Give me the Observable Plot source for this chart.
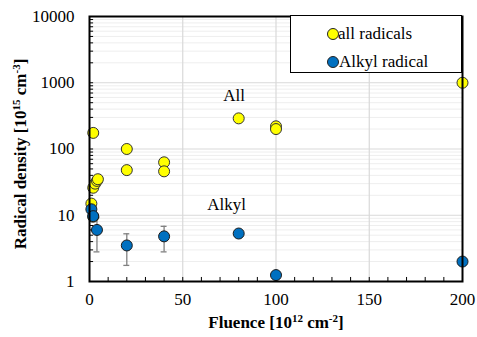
<!DOCTYPE html>
<html><head><meta charset="utf-8">
<script src="https://cdn.jsdelivr.net/npm/d3@7"></script>
<script src="https://cdn.jsdelivr.net/npm/@observablehq/plot@0.6"></script>
<style>
body{margin:0;background:#fff;}
#wrap{position:relative;width:477px;height:337px;}
.legend{position:absolute;left:290px;top:15px;width:172px;height:58px;border:1px solid #000;background:#fff;box-sizing:border-box;font-family:"Liberation Serif",serif;font-size:17px;color:#000;}
.legend .dot{position:absolute;width:10px;height:10px;border-radius:50%;border:1px solid #222;}
.legend .lab{position:absolute;white-space:nowrap;line-height:1;}
svg text{font-family:"Liberation Serif",serif;}
</style>
</head><body>
<div id="wrap"></div>
<script>
// All radicals
const allX = [2, 1, 2, 2, 3, 4, 4.5, 20, 20, 40, 40, 80, 100, 100, 200];
const allY = [175, 15, 9.5, 26, 30, 33, 35, 48, 100, 63, 46, 290, 220, 200, 1000];
// Alkyl radical
const alkylX = [1, 2, 4, 20, 40, 80, 100, 200];
const alkylY = [12.3, 9.7, 6.0, 3.5, 4.8, 5.3, 1.25, 2.0];
const alkylErr = [0, 0, 3.2, 1.75, 2.0, 0.5, 0, 0];
// ticks
const yTicks = [1, 10, 100, 1000, 10000];
const xTicks = [0, 50, 100, 150, 200];
const xMinor = [10,20,30,40,60,70,80,90,110,120,130,140,160,170,180,190];
const seriesNames = ["all radicals", "Alkyl radical"];
const colors = ["#FFFF00", "#0070C0"];
const annotations = [{x: 77.5, y: 640, t: "All"}, {x: 73.5, y: 14.4, t: "Alkyl"}];
// axis titles: [text, isSuperscript]
const yTitle = [["Radical density [10", 0], ["15", 1], [" cm", 0], ["-3", 1], ["]", 0]];
const xTitle = [["Fluence [10", 0], ["12", 1], [" cm", 0], ["-2", 1], ["]", 0]];

const allData = allX.map((x, i) => ({x, y: allY[i]}));
const alkData = alkylX.map((x, i) => ({x, y: alkylY[i], e: alkylErr[i]}));
const errData = alkData.filter(d => d.e > 0);
const minorY = [];
for (const dec of [1, 10, 100, 1000]) for (let k = 2; k <= 9; k++) minorY.push(dec * k);

const serif = "Liberation Serif";
const flat = parts => parts.map(p => p[0]).join("");
const chart = Plot.plot({
  width: 477, height: 337,
  marginLeft: 89, marginRight: 15, marginTop: 16, marginBottom: 56,
  style: {fontFamily: serif, fontSize: "17px", color: "#000", background: "#fff"},
  x: {domain: [0, 200]},
  y: {type: "log", domain: [1, 10000]},
  marks: [
    Plot.ruleY(minorY, {y: d => d, stroke: "#eeeeee", strokeWidth: 1}),
    Plot.ruleY(yTicks, {y: d => d, stroke: "#d9d9d9", strokeWidth: 1.2}),
    Plot.ruleX([50, 100, 150], {x: d => d, stroke: "#d9d9d9", strokeWidth: 1.2}),
    // inward ticks
    Plot.ruleY(minorY.concat(yTicks), {y: d => d, x1: 0, x2: 2.2, stroke: "#000", strokeWidth: 1}),
    Plot.ruleX(xMinor.concat(xTicks), {x: d => d, y1: 1, y2: 1.15, stroke: "#000", strokeWidth: 1}),
    Plot.axisY(yTicks, {tickSize: 0, tickPadding: 15, tickFormat: d => String(d), label: null, fontSize: 17, fontFamily: serif}),
    Plot.axisX(xTicks, {tickSize: 0, tickPadding: 11, tickFormat: d => String(d), label: null, fontSize: 17, fontFamily: serif}),
    // error bars
    Plot.ruleX(errData, {x: "x", y1: d => d.y - d.e, y2: d => d.y + d.e, stroke: "#808080", strokeWidth: 1.3}),
    Plot.ruleY(errData, {y: d => d.y - d.e, x1: d => d.x - 1.6, x2: d => d.x + 1.6, stroke: "#808080", strokeWidth: 1.3}),
    Plot.ruleY(errData, {y: d => d.y + d.e, x1: d => d.x - 1.6, x2: d => d.x + 1.6, stroke: "#808080", strokeWidth: 1.3}),
    Plot.dot(allData, {x: "x", y: "y", r: 5.5, fill: colors[0], stroke: "#333", strokeWidth: 1}),
    Plot.dot(alkData, {x: "x", y: "y", r: 5.5, fill: colors[1], stroke: "#1a1a1a", strokeWidth: 1}),
    Plot.text(annotations, {x: "x", y: "y", text: "t", fontSize: 17, fill: "#000", fontFamily: serif}),
    Plot.frame({stroke: "#000", strokeWidth: 2}),
    Plot.text([flat(yTitle)], {frameAnchor: "left", textAnchor: "middle", rotate: -90, dx: -69, dy: 5, fontWeight: "bold", fontSize: 17, fill: "#000", fontFamily: serif}),
    Plot.text([flat(xTitle)], {frameAnchor: "bottom", textAnchor: "middle", dy: 46, fontWeight: "bold", fontSize: 17, fill: "#000", fontFamily: serif})
  ]
});
// rebuild axis titles with superscript tspans
function supify(parts) {
  const target = flat(parts);
  chart.querySelectorAll("text").forEach(el => {
    if (el.textContent !== target) return;
    el.textContent = "";
    let shifted = false;
    parts.forEach(([s, sup]) => {
      const t = document.createElementNS("http://www.w3.org/2000/svg", "tspan");
      if (sup) { t.setAttribute("font-size", "11"); t.setAttribute("dy", "-6"); shifted = true; }
      else if (shifted) { t.setAttribute("dy", "6"); shifted = false; }
      t.textContent = s;
      el.appendChild(t);
    });
  });
}
supify(yTitle);
supify(xTitle);
const wrap = document.getElementById("wrap");
wrap.appendChild(chart);
const leg = document.createElement("div");
leg.className = "legend";
seriesNames.forEach((name, i) => {
  const top = i === 0 ? 12 : 40;
  const dot = document.createElement("span");
  dot.className = "dot";
  dot.style.left = "36px"; dot.style.top = (top) + "px";
  dot.style.background = colors[i];
  const lab = document.createElement("span");
  lab.className = "lab";
  lab.style.left = (i === 0 ? 47 : 48) + "px"; lab.style.top = (top - 3) + "px";
  lab.textContent = name;
  leg.appendChild(dot); leg.appendChild(lab);
});
wrap.appendChild(leg);
</script>
</body></html>
